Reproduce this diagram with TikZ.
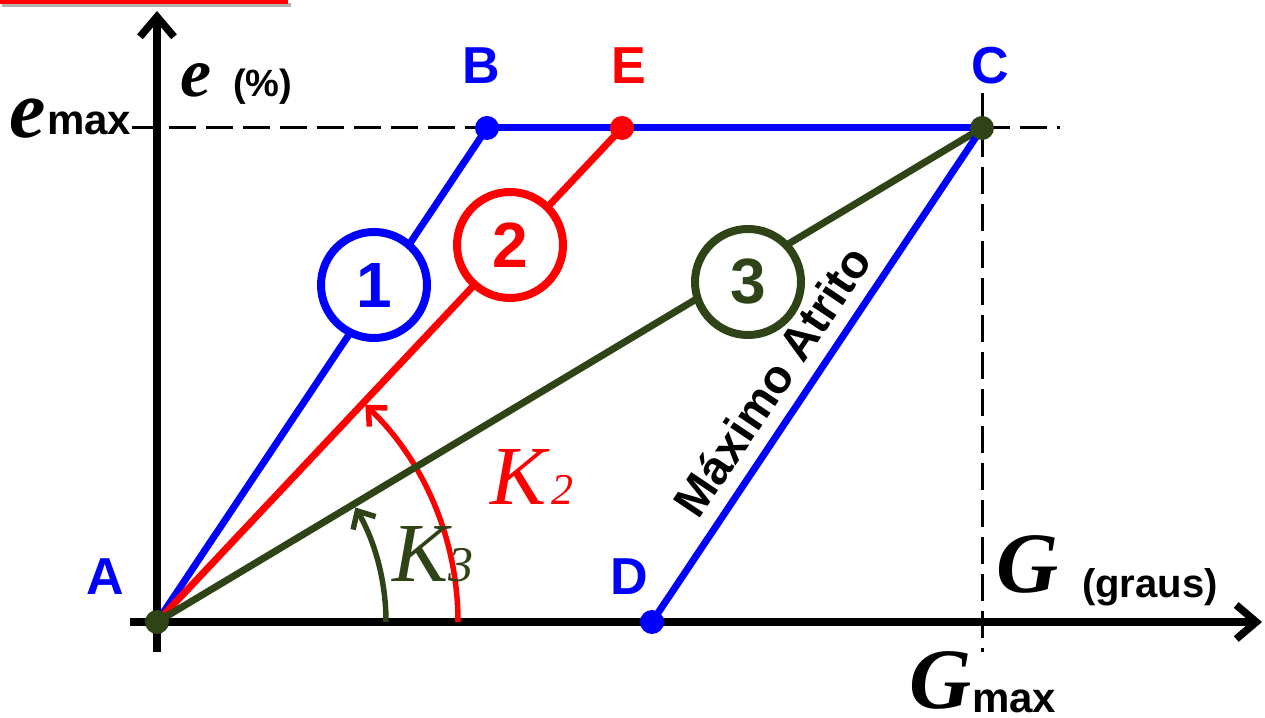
\documentclass[tikz,border=0pt]{standalone}
\usepackage{fontspec}
\setmainfont{Liberation Serif}
\setsansfont{Liberation Sans}
\usetikzlibrary{arrows.meta}
\definecolor{dgreen}{RGB}{46,68,22}
\definecolor{myblue}{RGB}{0,0,255}
\definecolor{myred}{RGB}{255,0,0}
\begin{document}
\begin{tikzpicture}[x=1pt,y=1pt,
  axisline/.style={line width=7.5pt,-{Straight Barb[length=20pt,width=34pt]}},
  guide/.style={line width=3pt,dash pattern=on 27pt off 10pt},
  seg/.style={line width=7pt},
  numcirc/.style={circle,line width=8pt,fill=white,minimum size=106pt,inner sep=0pt,font=\fontsize{64}{64}\sffamily\bfseries},
  dot/.style={circle,minimum size=24pt,inner sep=0pt},
  lab/.style={inner sep=0pt,font=\fontsize{52}{52}\sffamily\bfseries},
  sublab/.style={inner sep=0pt,anchor=base west,font=\fontsize{42}{42}\sffamily\bfseries},
  bigit/.style={inner sep=0pt,anchor=base west,font=\bfseries\itshape},
  kit/.style={inner sep=0pt,anchor=base west,font=\fontsize{84}{84}\itshape},
  angarc/.style={line width=5.5pt,-{Straight Barb[length=14pt,width=26pt]}}
]
\useasboundingbox (0,0) rectangle (1265,717);
% top red bar fragment
\fill[gray!60] (2,710) rectangle (291,714);
\fill[myred] (0,713) rectangle (288,717);

% key points
\coordinate (A) at (157,95);
\coordinate (B) at (487,589);
\coordinate (E) at (622,589);
\coordinate (C) at (982,589);
\coordinate (D) at (652,95);
\coordinate (xs) at (130,95);
\coordinate (xe) at (1262,95);
\coordinate (ys) at (157,65);
\coordinate (ye) at (157,706);
\coordinate (hs) at (132,589);
\coordinate (he) at (1060,589);
\coordinate (vs) at (982,624);
\coordinate (ve) at (982,65);
\coordinate (k2s) at (458,95);
\coordinate (k3s) at (386,95);

% guides
\draw[guide] (hs) -- (he);
\draw[guide] (vs) -- (ve);

% axes
\draw[axisline] (xs) -- (xe);
\draw[axisline] (ys) -- (ye);

% angle arcs
\draw[angarc,myred] (k2s) arc[start angle=0,end angle=46.2,radius=301];
\draw[angarc,dgreen] (k3s) arc[start angle=0,end angle=30.0,radius=229];

% lines
\draw[seg,myblue] (A) -- (B);
\draw[seg,myblue] (B) -- (C);
\draw[seg,myred] (A) -- (E);
\draw[seg,dgreen] (A) -- (C);
\draw[seg,myblue] (D) -- (C);

% numbered circles
\node[numcirc,draw=myblue,text=myblue] (c1) at (374,432) {1};
\node[numcirc,draw=myred,text=myred] (c2) at (510,472) {2};
\node[numcirc,draw=dgreen,text=dgreen] (c3) at (748,435) {3};

% dots
\node[dot,fill=dgreen] (pA) at (A) {};
\node[dot,fill=myblue] (pB) at (B) {};
\node[dot,fill=myred] (pE) at (E) {};
\node[dot,fill=dgreen] (pC) at (C) {};
\node[dot,fill=myblue] (pD) at (D) {};

% point labels
\node[lab,text=myblue] (lA) at (105,140) {A};
\node[lab,text=myblue] (lB) at (481,651) {B};
\node[lab,text=myred] (lE) at (629,651) {E};
\node[lab,text=myblue] (lC) at (990,651) {C};
\node[lab,text=myblue] (lD) at (629,140) {D};

% axis labels
\node[bigit,font=\fontsize{70}{70}\bfseries\itshape] (ey) at (180,620) {e};
\node[sublab,font=\fontsize{38}{38}\sffamily\bfseries] (ep) at (233,620) {(\%)};
\node[bigit,font=\fontsize{82}{82}\bfseries\itshape] (em) at (9,579) {e};
\node[sublab] (emx) at (47,582) {max};
\node[bigit,font=\fontsize{86}{86}\bfseries\itshape] (gx) at (996,124) {G};
\node[sublab,font=\fontsize{40}{40}\sffamily\bfseries] (gg) at (1082,119) {(graus)};
\node[bigit,font=\fontsize{86}{86}\bfseries\itshape] (gm) at (909,9) {G};
\node[sublab] (gmx) at (972,5) {max};

% K labels
\node[kit,text=myred] (k2) at (490,212) {K};
\node[inner sep=0pt,anchor=base west,font=\fontsize{44}{44}\itshape,text=myred] (k2i) at (551,212) {2};
\node[kit,text=dgreen] (k3) at (392,135) {K};
\node[inner sep=0pt,anchor=base west,font=\fontsize{50}{50}\itshape,text=dgreen] (k3i) at (448,135) {3};

% rotated text
\node[inner sep=0pt,rotate=56.1,font=\fontsize{47}{47}\sffamily\bfseries] (mat) at (772,336) {Máximo Atrito};
\end{tikzpicture}
\end{document}
